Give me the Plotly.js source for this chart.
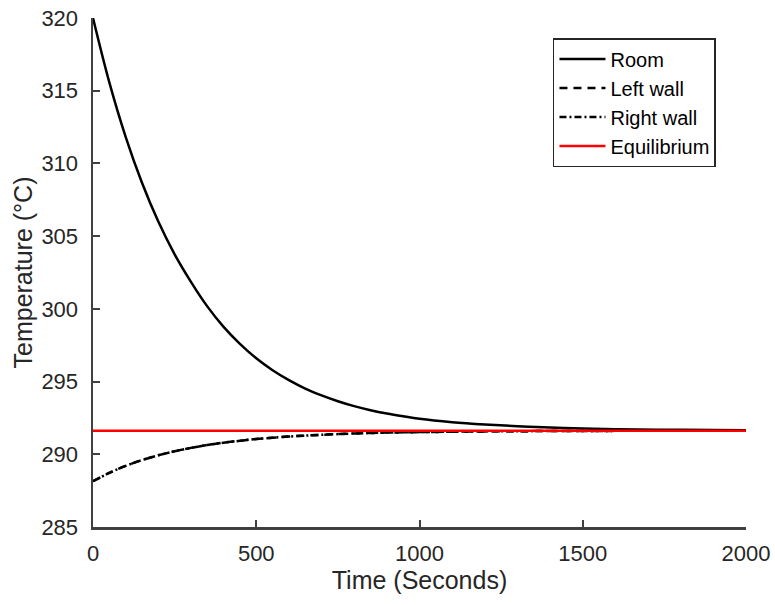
<!DOCTYPE html>
<html>
<head>
<meta charset="utf-8">
<script src="https://cdn.plot.ly/plotly-3.0.1.min.js"></script>
<style>html,body{margin:0;padding:0;background:#fff;}#chart{width:775px;height:605px;}</style>
</head>
<body>
<div id="chart"></div>
<script>
const roomTime = [0, 50, 100, 150, 200, 250, 300, 350, 400, 450, 500, 550, 600, 650, 700, 750, 800, 850, 900, 950, 1000, 1100, 1200, 1300, 1400, 1500, 1600, 1800, 2000];
const roomTemp = [320.0, 315.57, 311.83, 308.67, 306.0, 303.75, 301.86, 300.17, 298.76, 297.59, 296.6, 295.78, 295.1, 294.52, 294.05, 293.65, 293.31, 293.03, 292.8, 292.61, 292.44, 292.21, 292.05, 291.93, 291.84, 291.78, 291.73, 291.68, 291.65];
const wallTime = [0, 50, 100, 150, 200, 250, 300, 350, 400, 450, 500, 550, 600, 700, 800, 900, 1000, 1200, 1400, 1600, 2000];
const leftWallTemp = [288.15, 288.72, 289.2, 289.6, 289.93, 290.21, 290.44, 290.64, 290.8, 290.93, 291.05, 291.14, 291.22, 291.34, 291.43, 291.49, 291.525, 291.574, 291.598, 291.61, 291.62];
const rightWallTemp = [288.15, 288.72, 289.2, 289.6, 289.93, 290.21, 290.44, 290.64, 290.8, 290.93, 291.05, 291.14, 291.22, 291.34, 291.43, 291.49, 291.525, 291.574, 291.598, 291.61, 291.62];
const equilibriumTime = [0, 2000];
const equilibriumTemp = [291.62, 291.62];
const xTicks = [0, 500, 1000, 1500, 2000];
const yTicks = [285, 290, 295, 300, 305, 310, 315, 320];

const axisColor = '#404040';
const font = 'Liberation Sans, Arial, Helvetica, sans-serif';

const traces = [
  {x: roomTime, y: roomTemp, name: 'Room', mode: 'lines', line: {color: '#000', width: 2.5, shape: 'spline', smoothing: 1}},
  {x: wallTime, y: leftWallTemp, name: 'Left wall', mode: 'lines', line: {color: '#000', width: 2.5, dash: '8px,6px', shape: 'spline', smoothing: 1}},
  {x: wallTime, y: rightWallTemp, name: 'Right wall', mode: 'lines', line: {color: '#000', width: 2.5, dash: '7px,3px,2px,3px', shape: 'spline', smoothing: 1}},
  {x: equilibriumTime, y: equilibriumTemp, name: 'Equilibrium', mode: 'lines', line: {color: '#ff0000', width: 2.5}}
];

const layout = {
  width: 775, height: 605,
  margin: {l: 93, r: 29, t: 18, b: 78},
  paper_bgcolor: '#fff', plot_bgcolor: '#fff',
  font: {family: font, color: '#262626', size: 20},
  showlegend: true,
  legend: {
    x: 0.7044, y: 0.9607, xanchor: 'left', yanchor: 'top',
    bordercolor: '#262626', borderwidth: 1.5, bgcolor: '#fff',
    itemwidth: 46,
    font: {family: font, size: 20, color: '#000'}
  },
  xaxis: {
    range: [0, 2000], tickvals: xTicks, ticktext: xTicks.map(String),
    showline: true, linecolor: axisColor, linewidth: 2.5, mirror: false,
    ticks: 'inside', ticklen: 7, tickwidth: 2, tickcolor: axisColor,
    showgrid: false, zeroline: false, automargin: false,
    ticklabelstandoff: 5,
    tickfont: {size: 22, color: '#262626'},
    title: {text: 'Time (Seconds)', font: {size: 25, color: '#262626'}, standoff: 6}
  },
  yaxis: {
    range: [285, 320], tickvals: yTicks, ticktext: yTicks.map(String),
    showline: true, linecolor: axisColor, linewidth: 2.5, mirror: false,
    ticks: 'inside', ticklen: 7, tickwidth: 2, tickcolor: axisColor,
    showgrid: false, zeroline: false, automargin: false,
    ticklabelstandoff: 8,
    tickfont: {size: 22, color: '#262626'},
    title: {text: 'Temperature (°C)', font: {size: 25, color: '#262626'}, standoff: 2}
  }
};

Plotly.newPlot('chart', traces, layout, {displayModeBar: false, staticPlot: true});
</script>
</body>
</html>
